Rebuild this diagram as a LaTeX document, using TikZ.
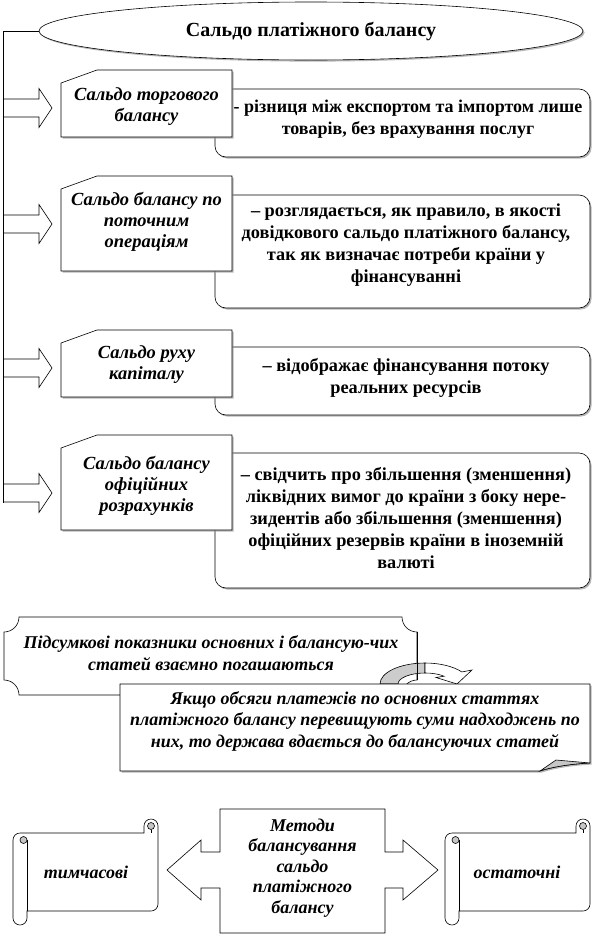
\documentclass[tikz,border=0pt]{standalone}
\usepackage{fontspec}
\setmainfont{Liberation Serif}
\usetikzlibrary{shapes.geometric,shadows}
\tikzset{
  outline/.style={draw=black,line width=0.6pt},
  boxshadow/.style={drop shadow={shadow xshift=1.6pt,shadow yshift=-1.6pt,fill=gray!80,opacity=0.7}},
  leftbox/.style={outline,fill=white,boxshadow},
  descbox/.style={outline,fill=white,rounded corners=11pt,boxshadow},
  blockarrow/.style={outline,fill=white},
  lefttext/.style={align=center,inner sep=0pt,font=\fontsize{18.5}{21}\selectfont\bfseries\itshape},
  desctext/.style={align=center,inner sep=0pt,font=\fontsize{18.3}{22}\selectfont\bfseries},
  lowtext/.style={align=center,inner sep=0pt,font=\fontsize{18}{21.5}\selectfont\bfseries\itshape},
}
\begin{document}
\begin{tikzpicture}[x=1pt,y=-1pt]
    \useasboundingbox (0,0) rectangle (602,937);
    \node[ellipse,outline,fill=white,boxshadow,minimum width=544pt,minimum height=58pt,
      font=\fontsize{20}{24}\selectfont\bfseries] (title) at (311,31) {Сальдо платіжного балансу};
    \coordinate (trunk) at (3,31);
    \coordinate (trunkend) at (3,502.5);
    \foreach \top/\bot in {89/157,195/308,347/415,453/588}
      \draw[descbox] (215,\top) rectangle (590,\bot);
    \foreach \ay in {108,224,368,493}
      \draw[blockarrow] (3,\ay-9) -- (39,\ay-9) -- (39,\ay-19.5) -- (52,\ay)
        -- (39,\ay+19.5) -- (39,\ay+9) -- (3,\ay+9);
    \draw[outline] (title.west) -- (trunk) -- (trunkend);
    \foreach \top/\bot in {70/137,176/271,330/397,435/530}
      \draw[leftbox] (61,\top+13) -- (97,\top) -- (232,\top) -- (232,\bot) -- (61,\bot) -- cycle;
    \node[lefttext] (s1) at (146.5,107) {Сальдо торгового\\балансу};
    \node[lefttext] (s2) at (146.5,222) {Сальдо балансу по\\поточним\\операціям};
    \node[lefttext] (s3) at (146.5,365) {Сальдо руху\\капіталу};
    \node[lefttext] (s4) at (146.5,486) {Сальдо балансу\\офіційних\\розрахунків};
    \node[desctext,font=\fontsize{18}{22}\selectfont\bfseries] (d1) at (408,119) {- різниця між експортом та імпортом лише\\товарів, без врахування послуг};
    \node[desctext] (d2) at (406,245) {– розглядається, як правило, в якості\\довідкового сальдо платіжного балансу,\\так як визначає потреби країни у\\фінансуванні};
    \node[desctext] (d3) at (406,378) {– відображає фінансування потоку\\реальних ресурсів};
    \node[desctext] (d4) at (406,518) {– свідчить про збільшення (зменшення)\\ліквідних вимог до країни з боку нере-\\зидентів або збільшення (зменшення)\\офіційних резервів країни в іноземній\\валюті};
    \draw[outline,fill=white] (19,617) -- (402,617) arc[start angle=180,end angle=90,radius=15]
      -- (417,680) arc[start angle=270,end angle=180,radius=15]
      -- (19,695) arc[start angle=0,end angle=-90,radius=15]
      -- (4,632) arc[start angle=90,end angle=0,radius=15] -- cycle;
    \draw[outline,fill=gray!40] (380,684) arc[start angle=180,end angle=270,x radius=45,y radius=21]
      -- (425,673) arc[start angle=270,end angle=180,x radius=27,y radius=11] -- cycle;
    \draw[outline,fill=white] (425,663) arc[start angle=270,end angle=325,x radius=45,y radius=21]
      -- (472,670) -- (457,684) -- (436,677.5) -- (444.1,676.2)
      arc[start angle=315,end angle=270,x radius=27,y radius=11] -- cycle;
    \draw[outline] (417,632) -- (417,680);
    \node[lowtext] (sum) at (211,653) {Підсумкові показники основних і балансую-чих\\статей взаємно погашаються};
    \draw[outline,fill=white,boxshadow] (120,684) -- (590,684) -- (590,763)
      .. controls (570,764) and (552,767) .. (540,771) -- (120,771) -- cycle;
    \draw[outline,fill=gray!45] (540,771) -- (556,760) -- (590,763)
      .. controls (570,764) and (552,767) .. (540,771) -- cycle;
    \node[lowtext] (cond) at (355,721) {Якщо обсяги платежів по основних статтях\\платіжного балансу перевищують суми надходжень по\\них, то держава вдається до балансуючих статей};
    \draw[outline,fill=white] (220,809) -- (385,809) -- (385,852) -- (403,852) -- (403,840) -- (438,870)
      -- (403,900) -- (403,888) -- (385,888) -- (385,933) -- (220,933) -- (220,888) -- (201,888)
      -- (201,900) -- (167,870) -- (201,840) -- (201,852) -- (220,852) -- cycle;
    \node[lowtext,font=\fontsize{18}{20.5}\selectfont\bfseries\itshape] (meth) at (302.5,868)
      {Методи\\балансування\\сальдо\\платіжного\\балансу};
    \foreach \sx in {13,445} {
      \draw[outline,fill=white] (\sx,840) arc[start angle=180,end angle=270,radius=7]
        -- (\sx+131,833) -- (\sx+131,826) arc[start angle=180,end angle=360,radius=7]
        -- (\sx+145,904) arc[start angle=0,end angle=90,radius=7]
        -- (\sx+14,911) -- (\sx+14,918) arc[start angle=0,end angle=180,radius=7] -- cycle;
      \draw[outline] (\sx+14,840) -- (\sx+14,911);
      \draw[outline,fill=gray!45] (\sx+10.5,840) circle[radius=3.5];
      \draw[outline,fill=gray!45] (\sx+138,826) circle[radius=3.5];
      \draw[outline] (\sx+138,829.5) -- (\sx+138,833);
    }
    \node[lowtext] (temp) at (86,872) {тимчасові};
    \node[lowtext] (final) at (517,872) {остаточні};
\end{tikzpicture}
\end{document}
